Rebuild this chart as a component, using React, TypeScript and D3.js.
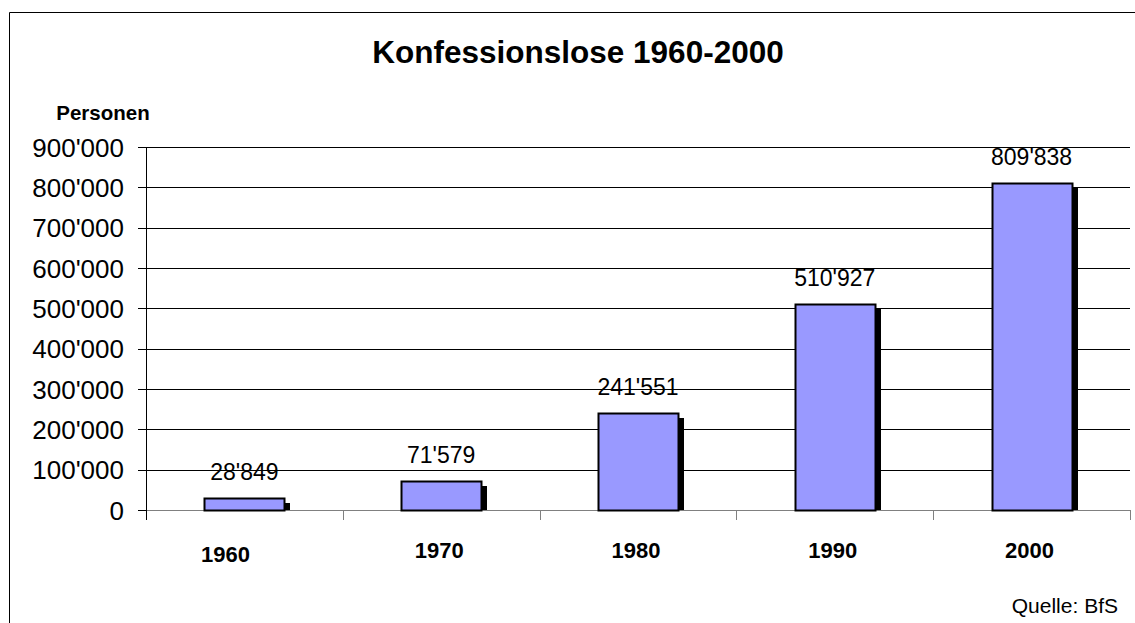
import React from "react";
import * as d3 from "d3";

const categories = ["1960", "1970", "1980", "1990", "2000"];
const values = [28849, 71579, 241551, 510927, 809838];
const yTicks = [0, 100000, 200000, 300000, 400000, 500000, 600000, 700000, 800000, 900000];
const title = "Konfessionslose 1960-2000";
const yTitle = "Personen";
const source = "Quelle: BfS";

const W = 1135;
const H = 623;
const left = 146;
const right = 1130;
const top = 147;
const bottom = 510;

const fmt = (v: number) => String(v).replace(/\B(?=(\d{3})+(?!\d))/g, "'");

export default function App() {
  const x = d3.scaleBand<string>().domain(categories).range([left, right]).paddingInner(0).paddingOuter(0);
  const y = d3.scaleLinear().domain([0, 900000]).range([bottom, top]);
  const barW = 80;
  const font = "Arial, 'Liberation Sans', Helvetica, sans-serif";
  const boundaries = categories.map((_, i) => left + i * x.bandwidth()).concat([right]);

  return (
    <svg width={W} height={H} style={{ position: "absolute", left: 0, top: 0, background: "#fff" }} fontFamily={font}>
      <rect x={0} y={0} width={W} height={H} fill="#fff" />
      <line x1={9.5} y1={12.5} x2={W} y2={12.5} stroke="#000" strokeWidth={1} />
      <line x1={9.5} y1={12.5} x2={9.5} y2={H} stroke="#000" strokeWidth={1} />

      <text x={578} y={63} textAnchor="middle" fontSize={31.5} fontWeight="bold" fill="#000">{title}</text>
      <text x={103} y={120} textAnchor="middle" fontSize={20.5} fontWeight="bold" fill="#000">{yTitle}</text>

      {yTicks.map((t) => (
        <line key={"g" + t} x1={left} x2={right} y1={Math.round(y(t)) + 0.5} y2={Math.round(y(t)) + 0.5}
          stroke={t === 0 ? "#808080" : "#000"} strokeWidth={1} />
      ))}
      <line x1={left + 0.5} x2={left + 0.5} y1={top} y2={bottom + 10} stroke="#000" />
      {yTicks.map((t) => (
        <g key={"t" + t}>
          <line x1={138} x2={left} y1={Math.round(y(t)) + 0.5} y2={Math.round(y(t)) + 0.5} stroke="#000" />
          <text x={124} y={y(t) + 9.5} textAnchor="end" fontSize={26} fill="#000">{fmt(t)}</text>
        </g>
      ))}
      {boundaries.slice(1).map((b, i) => (
        <line key={"xt" + i} x1={Math.round(b) + 0.5} x2={Math.round(b) + 0.5} y1={bottom} y2={bottom + 10} stroke="#808080" />
      ))}

      {categories.map((c, i) => {
        const cx = (x(c) as number) + x.bandwidth() / 2;
        const x0 = Math.round(cx - barW / 2);
        const yt = Math.round(y(values[i]));
        return (
          <g key={c}>
            <rect x={x0 + 6} y={yt + 5} width={barW} height={bottom - yt - 5} fill="#000" />
            <rect x={x0 + 0.5} y={yt + 0.5} width={barW} height={bottom - yt} fill="#9999ff" stroke="#000" strokeWidth={2} />
            <text x={cx} y={yt - 18} textAnchor="middle" fontSize={23} fill="#000">{fmt(values[i])}</text>
            <text x={cx - (i === 0 ? 19 : 2)} y={i === 0 ? 562 : 558} textAnchor="middle" fontSize={22} fontWeight="bold" fill="#000">{c}</text>
          </g>
        );
      })}

      <text x={1118} y={613} textAnchor="end" fontSize={21} fill="#000">{source}</text>
    </svg>
  );
}
